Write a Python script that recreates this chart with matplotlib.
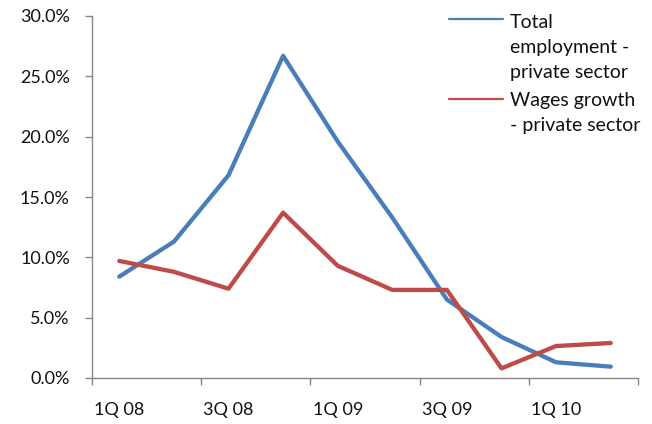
import matplotlib
matplotlib.use("Agg")
import matplotlib.pyplot as plt
from matplotlib.legend_handler import HandlerLine2D
from matplotlib.ticker import FixedLocator, FixedFormatter, FuncFormatter

quarters = ["1Q 08", "2Q 08", "3Q 08", "4Q 08", "1Q 09",
            "2Q 09", "3Q 09", "4Q 09", "1Q 10", "2Q 10"]
employment = [8.4, 11.3, 16.8, 26.7, 19.6, 13.3, 6.5, 3.4, 1.3, 0.94]
wages = [9.7, 8.8, 7.4, 13.7, 9.3, 7.3, 7.3, 0.8, 2.65, 2.9]
series_names = ["Total\nemployment -\nprivate sector",
                "Wages growth\n- private sector"]
y_ticks = [0, 5, 10, 15, 20, 25, 30]

LEG_SIZE = 14
LEG_LINESPACING = 1.58


class FirstLineHandler(HandlerLine2D):
    """Line handle that sits beside the first line of a multi-line label."""

    def __init__(self, n_lines, pitch, **kw):
        super().__init__(**kw)
        self.shift = (n_lines - 1) / 2 * pitch

    def create_artists(self, legend, orig_handle, xdescent, ydescent,
                       width, height, fontsize, trans):
        arts = super().create_artists(legend, orig_handle, xdescent, ydescent,
                                      width, height, fontsize, trans)
        for a in arts:
            a.set_ydata([v + self.shift for v in a.get_ydata()])
        return arts


plt.rcParams["font.family"] = ["Lato", "DejaVu Sans"]
fig = plt.figure(figsize=(6.52, 4.24), dpi=100)
ax = fig.add_axes([92 / 652, 1 - 378 / 424, 546 / 652, 362 / 424])

x = list(range(len(quarters)))
l1, = ax.plot(x, employment, color="#4A7EBB", lw=3.1, solid_joinstyle="round",
              solid_capstyle="round", label=series_names[0])
l2, = ax.plot(x, wages, color="#BE4B48", lw=3.1, solid_joinstyle="round",
              solid_capstyle="round", label=series_names[1])

ax.set_xlim(-0.5, len(quarters) - 0.5)
ax.set_ylim(0, 30)

# category boundaries every two quarters carry the tick marks
ax.xaxis.set_major_locator(FixedLocator([i - 0.5 for i in range(0, len(quarters) + 1, 2)]))
ax.xaxis.set_major_formatter(FixedFormatter([""] * 6))
ax.xaxis.set_minor_locator(FixedLocator(x[::2]))
ax.xaxis.set_minor_formatter(FixedFormatter(quarters[::2]))
ax.tick_params(axis="x", which="major", length=5, width=1, color="#868686", direction="out")
ax.tick_params(axis="x", which="minor", length=0, pad=17, labelsize=13, labelcolor="#111111")

ax.set_yticks(y_ticks)
ax.yaxis.set_major_formatter(FuncFormatter(lambda v, p: f"{v:.1f}%"))
ax.tick_params(axis="y", length=5, width=1, color="#868686", direction="out",
               pad=11, labelsize=13, labelcolor="#111111")

for side in ("top", "right"):
    ax.spines[side].set_visible(False)
for side in ("left", "bottom"):
    ax.spines[side].set_color("#868686")
    ax.spines[side].set_linewidth(1)

pitch = LEG_SIZE * LEG_LINESPACING * 0.93
handlers = {
    l1: FirstLineHandler(series_names[0].count("\n") + 1, pitch),
    l2: FirstLineHandler(series_names[1].count("\n") + 1, pitch),
}
leg = ax.legend(handler_map=handlers, loc="upper left",
                bbox_to_anchor=(449 / 652, 1 - 14 / 424),
                bbox_transform=fig.transFigure, frameon=False, fontsize=LEG_SIZE,
                handlelength=3.8 * 12 / LEG_SIZE * 0.85, handletextpad=0.35,
                borderpad=0, borderaxespad=0, labelspacing=0.55)
for line in leg.get_lines():
    line.set_linewidth(1.6)
for t in leg.get_texts():
    t.set_linespacing(LEG_LINESPACING)
    t.set_color("#111111")

fig.savefig("out.png", dpi=100)
